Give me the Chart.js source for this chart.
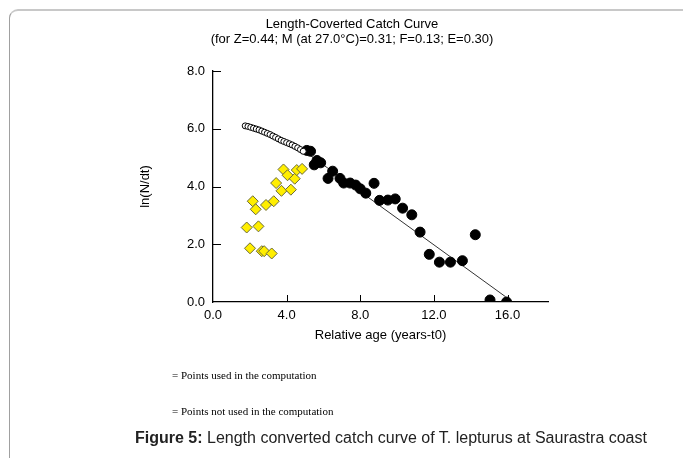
<!DOCTYPE html>
<html>
<head>
<meta charset="utf-8">
<script src="https://cdn.jsdelivr.net/npm/chart.js@4.4.0/dist/chart.umd.min.js"></script>
<style>
  html, body { margin: 0; padding: 0; background: #fff; }
  body { width: 683px; height: 458px; position: relative; overflow: hidden; font-family: "Liberation Sans", Arial, sans-serif; }
  #frame { position: absolute; left: 9px; top: 9px; width: 700px; height: 520px; border-top: 2px solid #c8c8c8; border-left: 1px solid #a0a0a0; border-top-left-radius: 9px; }
  #chartBox { position: absolute; left: 0; top: 0; width: 683px; height: 458px; }
  .title { position: absolute; left: 152px; width: 400px; text-align: center; font-size: 13px; color: #000; }
  .note { position: absolute; left: 172px; font-family: "Liberation Serif", "Times New Roman", serif; font-size: 11px; color: #000; }
  #caption { position: absolute; left: 135px; top: 429px; font-size: 16px; color: #222; white-space: nowrap; }
</style>
</head>
<body>
<div id="frame"></div>
<div id="chartBox"><canvas id="chart" width="683" height="458"></canvas></div>
<div class="title" style="top:16px">Length-Coverted Catch Curve</div>
<div class="title" style="top:31px">(for Z=0.44; M (at 27.0°C)=0.31; F=0.13; E=0.30)</div>
<div class="note" style="top:369px">= Points used in the computation</div>
<div class="note" style="top:405px">= Points not used in the computation</div>
<div id="caption"><b>Figure 5:</b> Length converted catch curve of T. lepturus at Saurastra coast</div>
<script>
// Points used in the regression (black)
const usedAge = [5.1, 5.3, 5.5, 5.65, 5.85, 6.25, 6.5, 6.9, 7.1, 7.45, 7.75, 8.0, 8.3, 8.75, 9.05, 9.5, 9.9, 10.3, 10.8, 11.25, 11.75, 12.3, 12.9, 13.55, 14.25, 15.05, 15.95];
const usedLn  = [5.25, 5.22, 4.75, 4.9, 4.82, 4.28, 4.53, 4.28, 4.12, 4.12, 4.05, 3.92, 3.77, 4.11, 3.52, 3.53, 3.57, 3.25, 3.02, 2.42, 1.65, 1.38, 1.38, 1.43, 2.33, 0.07, 0.0];

// Points not used (yellow)
const notUsedAge = [1.83, 2.47, 2.01, 2.65, 2.78, 3.19, 2.16, 2.32, 2.88, 3.3, 3.43, 3.72, 4.23, 3.83, 4.05, 4.44, 4.55, 4.84];
const notUsedLn  = [2.58, 2.62, 1.86, 1.76, 1.76, 1.68, 3.49, 3.21, 3.36, 3.49, 4.12, 3.85, 3.89, 4.59, 4.39, 4.27, 4.57, 4.61];

// Open (hollow) points along the top of the curve
const openAge = [1.75, 1.9, 2.05, 2.2, 2.35, 2.5, 2.65, 2.8, 2.95, 3.1, 3.25, 3.4, 3.55, 3.7, 3.85, 4.0, 4.15, 4.3, 4.45, 4.6, 4.75, 4.9];
const openLn  = [6.1, 6.08, 6.05, 6.02, 5.99, 5.96, 5.92, 5.88, 5.84, 5.8, 5.75, 5.7, 5.65, 5.6, 5.56, 5.52, 5.48, 5.44, 5.39, 5.34, 5.28, 5.22];

// Regression line end points
const lineAge = [4.8, 15.9];
const lineLn  = [5.3, 0.18];

const xTicks = [0, 4, 8, 12, 16];
const yTicks = [0, 2, 4, 6, 8];

function pairs(xs, ys) {
    return xs.map((x, i) => ({ x: x, y: ys[i] }));
}

// inward tick marks like the original plot
const innerTicks = {
    id: 'innerTicks',
    afterDraw(chart) {
        const ctx = chart.ctx;
        const xs = chart.scales.x, ys = chart.scales.y;
        const area = chart.chartArea;
        ctx.save();
        ctx.strokeStyle = '#000';
        ctx.lineWidth = 1;
        xTicks.forEach(v => {
            if (v === 0) return;
            const px = Math.round(xs.getPixelForValue(v)) + 0.5;
            ctx.beginPath();
            ctx.moveTo(px, area.bottom);
            ctx.lineTo(px, area.bottom - 7);
            ctx.stroke();
        });
        yTicks.forEach(v => {
            if (v === 0) return;
            const py = Math.round(ys.getPixelForValue(v)) + 0.5;
            ctx.beginPath();
            ctx.moveTo(area.left, py);
            ctx.lineTo(area.left + 8, py);
            ctx.stroke();
        });
        ctx.restore();
    }
};

new Chart(document.getElementById('chart'), {
    type: 'scatter',
    data: {
        datasets: [
            {
                label: 'not used',
                data: pairs(notUsedAge, notUsedLn),
                pointStyle: 'rectRot',
                pointRadius: 5.5,
                backgroundColor: '#ffee00',
                borderColor: '#6a6a3a',
                borderWidth: 1
            },
            {
                label: 'open',
                data: pairs(openAge, openLn),
                pointStyle: 'circle',
                pointRadius: 3,
                backgroundColor: '#ffffff',
                borderColor: '#000',
                borderWidth: 1
            },
            {
                label: 'used',
                data: pairs(usedAge, usedLn),
                pointStyle: 'circle',
                pointRadius: 5,
                backgroundColor: '#000',
                borderColor: '#000',
                borderWidth: 1
            },
            {
                label: 'regression',
                type: 'line',
                data: pairs(lineAge, lineLn),
                borderColor: '#333',
                borderWidth: 1,
                pointRadius: 0,
                fill: false
            }
        ]
    },
    options: {
        responsive: false,
        animation: false,
        events: [],
        layout: { padding: { left: 138, right: 135, top: 71, bottom: 111 } },
        plugins: { legend: { display: false }, title: { display: false }, tooltip: { enabled: false } },
        scales: {
            x: {
                type: 'linear',
                min: 0,
                max: 18.2,
                afterFit: s => { s.height = 45; },
                afterBuildTicks: s => { s.ticks = xTicks.map(v => ({ value: v })); },
                grid: { display: false, drawTicks: false },
                border: { display: true, color: '#000', width: 1.3 },
                ticks: {
                    color: '#000',
                    padding: 6,
                    maxRotation: 0,
                    font: { family: 'Liberation Sans', size: 13 },
                    callback: v => v.toFixed(1)
                },
                title: {
                    display: true,
                    text: 'Relative age (years-t0)',
                    color: '#000',
                    padding: { top: 0 },
                    font: { family: 'Liberation Sans', size: 13 }
                }
            },
            y: {
                type: 'linear',
                min: 0,
                max: 8,
                afterFit: s => { s.width = 75; },
                afterBuildTicks: s => { s.ticks = yTicks.map(v => ({ value: v })); },
                grid: { display: false, drawTicks: false },
                border: { display: true, color: '#000', width: 1.3 },
                ticks: {
                    color: '#000',
                    padding: 8,
                    font: { family: 'Liberation Sans', size: 13 },
                    callback: v => v.toFixed(1)
                },
                title: {
                    display: true,
                    text: 'ln(N/dt)',
                    color: '#000',
                    padding: { top: 0, bottom: 0 },
                    font: { family: 'Liberation Sans', size: 13 }
                }
            }
        }
    },
    plugins: [innerTicks]
});
</script>
</body>
</html>
